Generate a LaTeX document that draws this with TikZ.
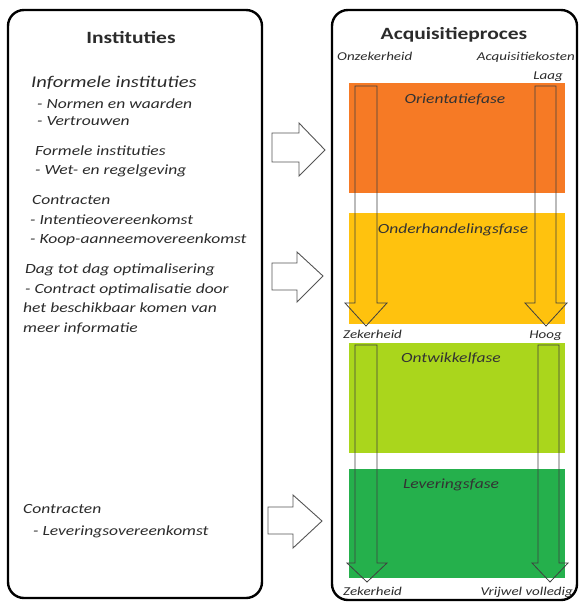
\documentclass[tikz,border=0pt]{standalone}
\usepackage{fontspec}
\setmainfont{Carlito}[FakeStretch=1.25]
\usetikzlibrary{calc}
\definecolor{txt}{HTML}{2B2B2B}
\definecolor{orientatie}{HTML}{F67A25}
\definecolor{onderhandel}{HTML}{FFC20E}
\definecolor{ontwikkel}{HTML}{AAD61C}
\definecolor{levering}{HTML}{25B04C}
\definecolor{arrowline}{HTML}{555555}
\tikzset{
  frame/.style={draw=black, line width=2.4pt, rounded corners=16pt},
  lt/.style={anchor=base west, inner sep=0pt, text=txt, font=\itshape\fontsize{14}{16}\selectfont},
  ltbig/.style={lt, font=\itshape\fontsize{16.4}{18}\selectfont},
  title/.style={anchor=base, inner sep=0pt, text=txt, font=\bfseries\fontsize{17.2}{19}\selectfont},
  small/.style={inner sep=0pt, text=txt, font=\itshape\fontsize{12}{14}\selectfont},
  phase/.style={anchor=base, inner sep=0pt, text=black!80, font=\itshape\fontsize{14}{16}\selectfont},
  hollow/.style={draw=arrowline, line width=0.9pt, fill=white, line join=miter},
  downarrow/.style={draw=black!75, line width=0.8pt, line join=miter}
}
\begin{document}
\begin{tikzpicture}[x=1pt,y=-1pt]
\useasboundingbox (0,0) rectangle (579,602);
\fill[white] (0,0) rectangle (579,602);

% ---- left frame: institutions ----
\draw[frame] (8,10) rectangle (262,598);
\node[title] (tinst) at (131,44) {Instituties};
\node[ltbig] (inf) at (31,87) {Informele instituties};
\node[lt] (inf1) at (37,108) {- Normen en waarden};
\node[lt] (inf2) at (37,125) {- Vertrouwen};
\node[lt] (form) at (35,155) {Formele instituties};
\node[lt] (form1) at (35,174) {- Wet- en regelgeving};
\node[lt] (con) at (32,204) {Contracten};
\node[lt] (con1) at (30,224) {- Intentieovereenkomst};
\node[lt] (con2) at (30,243) {- Koop-aanneemovereenkomst};
\node[lt] (dag) at (25,273) {Dag tot dag optimalisering};
\node[lt] (dag1) at (25,293) {- Contract optimalisatie door};
\node[lt] (dag2) at (23,312) {het beschikbaar komen van};
\node[lt] (dag3) at (23,332) {meer informatie};
\node[lt] (lev) at (23,513) {Contracten};
\node[lt] (lev1) at (33,535) {- Leveringsovereenkomst};

% ---- hollow arrows between the frames ----
\draw[hollow] (272,133) -- (299,133) -- (299,123) -- (325,150) -- (299,176) -- (299,162) -- (272,162) -- cycle;
\draw[hollow] (272,263) -- (297,263) -- (297,252) -- (323,276) -- (297,302) -- (297,290) -- (272,290) -- cycle;
\draw[hollow] (268,507) -- (293,507) -- (293,495) -- (322,521) -- (293,548) -- (293,534) -- (268,534) -- cycle;

% ---- right frame: acquisition process ----
\fill[orientatie] (349,83) rectangle (565,193);
\fill[onderhandel] (349,213) rectangle (565,324);
\fill[ontwikkel] (349,343) rectangle (565,453);
\fill[levering] (349,469) rectangle (565,578);

% outlined block arrows running down through the phases
\draw[downarrow] (355,86) -- (377,86) -- (377,303) -- (387,303) -- (366,326) -- (345,303) -- (355,303) -- cycle;
\draw[downarrow] (535,86) -- (556,86) -- (556,303) -- (567,303) -- (546,326) -- (525,303) -- (535,303) -- cycle;
\draw[downarrow] (355,345) -- (377,345) -- (377,563) -- (387,563) -- (367,582) -- (347,563) -- (355,563) -- cycle;
\draw[downarrow] (538,345) -- (559,345) -- (559,563) -- (568,563) -- (550,582) -- (532,563) -- (538,563) -- cycle;

\draw[frame] (332,10) rectangle (577,600);

\node[phase] (p1) at (455,103) {Orientatiefase};
\node[phase] (p2) at (453,233) {Onderhandelingsfase};
\node[phase] (p3) at (451,362) {Ontwikkelfase};
\node[phase] (p4) at (451,488) {Leveringsfase};

\node[title] (tacq) at (454,40) {Acquisitieproces};
\node[small, anchor=base west] (onz) at (337,61) {Onzekerheid};
\node[small, anchor=base east] (kost) at (575,61) {Acquisitiekosten};
\node[small, anchor=base east] (laag) at (563,79) {Laag};
\node[small, anchor=base west] (zek1) at (343,338) {Zekerheid};
\node[small, anchor=base east] (hoog) at (562,338) {Hoog};
\node[small, anchor=base west] (zek2) at (343,595) {Zekerheid};
\node[small, anchor=base east] (vol) at (573,595) {Vrijwel volledig};
\end{tikzpicture}
\end{document}
